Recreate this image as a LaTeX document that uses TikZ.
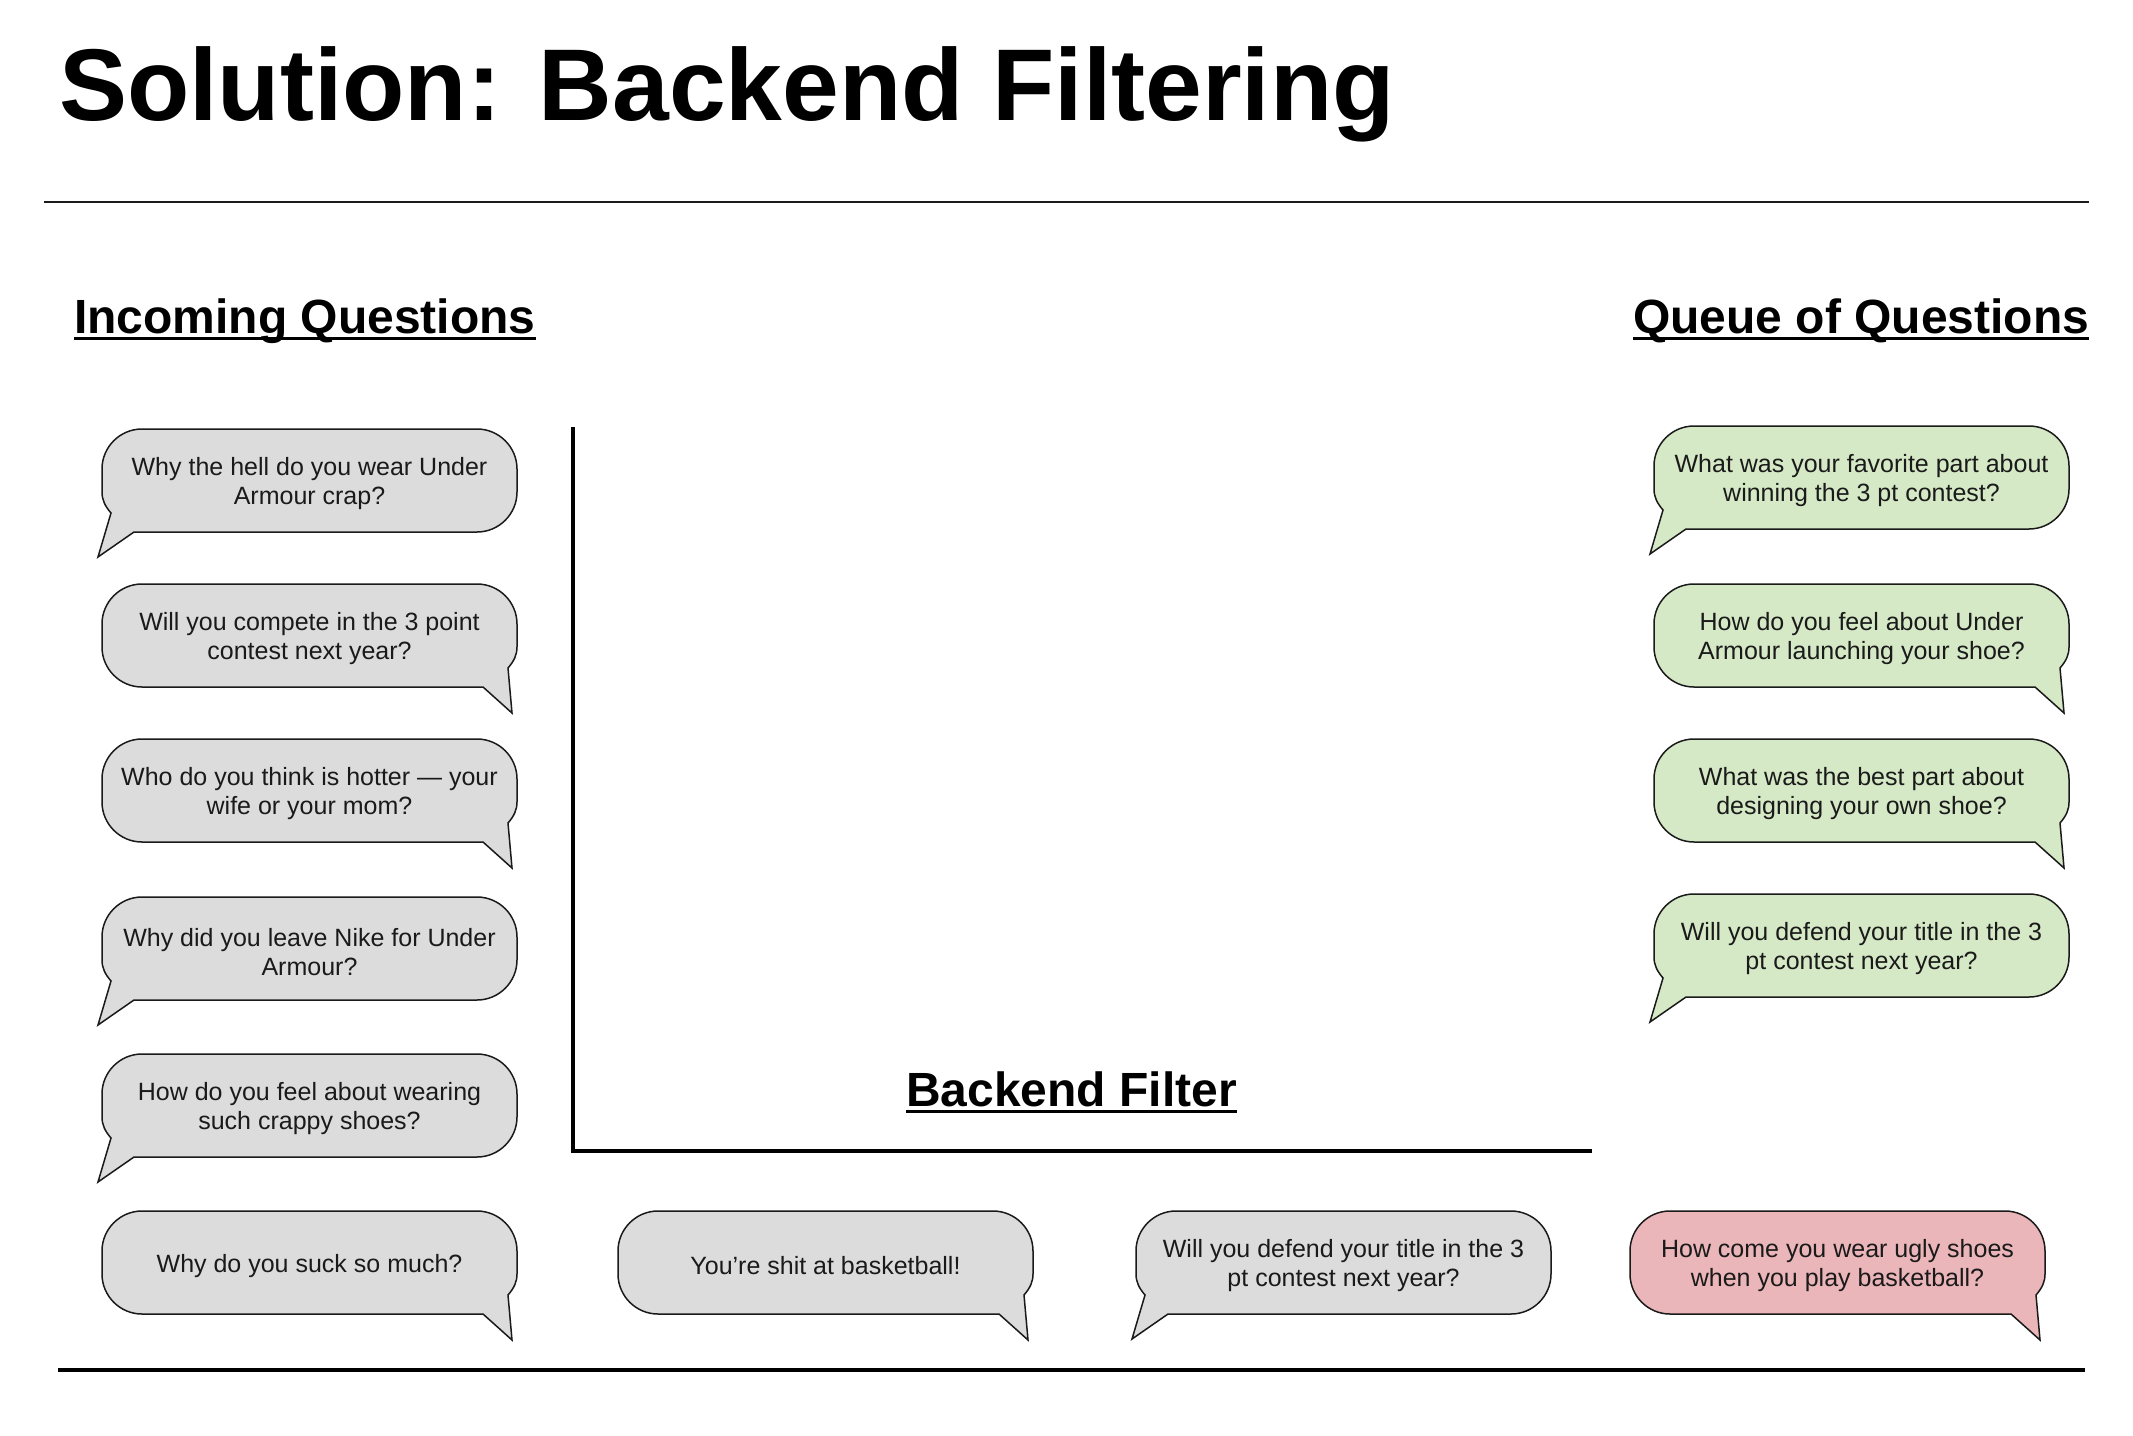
\documentclass[tikz,border=0pt]{standalone}
\usepackage{fontspec}
\setmainfont{Liberation Sans}
\usetikzlibrary{calc}
\definecolor{bubgray}{HTML}{DCDCDC}
\definecolor{bubgreen}{HTML}{D6E9C6}
\definecolor{bubred}{HTML}{EBB6B9}
\definecolor{inkdark}{HTML}{1A1A1A}
\tikzset{
  bubline/.style={draw=inkdark, line width=1.5pt},
  bubtext/.style={inner sep=0pt, align=center, font=\fontsize{25}{29}\selectfont, text=inkdark},
  headtext/.style={inner sep=0pt, anchor=base west, font=\fontsize{48}{56}\selectfont\bfseries},
  titletext/.style={inner sep=0pt, anchor=base west, font=\fontsize{102}{110}\selectfont\bfseries},
  ruleline/.style={draw=black, line width=4pt},
  underl/.style={draw=black, line width=3pt},
}
% bubble with tail at bottom-left: name, left x, top y, fill, text
\newcommand{\bubL}[5]{%
  \draw[bubline, fill=#4] ({#2+40},#3) -- ({#2+375},#3)
    .. controls ({#2+397},#3) and ({#2+415},{#3+18}) .. ({#2+415},{#3+40})
    -- ({#2+415},{#3+63})
    .. controls ({#2+415},{#3+85}) and ({#2+397},{#3+103}) .. ({#2+375},{#3+103})
    -- ({#2+32},{#3+103}) -- ({#2-4},{#3+128}) -- ({#2+9},{#3+84})
    .. controls ({#2+3},{#3+77}) and ({#2},{#3+71}) .. ({#2},{#3+63})
    -- ({#2},{#3+40})
    .. controls ({#2},{#3+18}) and ({#2+18},#3) .. ({#2+40},#3) -- cycle;
  \node[bubtext] (#1) at ({#2+207.5},{#3+55}) {#5};
}
% bubble with tail at bottom-right
\newcommand{\bubR}[5]{%
  \draw[bubline, fill=#4] ({#2+40},#3) -- ({#2+375},#3)
    .. controls ({#2+397},#3) and ({#2+415},{#3+18}) .. ({#2+415},{#3+40})
    -- ({#2+415},{#3+63})
    .. controls ({#2+415},{#3+71}) and ({#2+412},{#3+77}) .. ({#2+406},{#3+84})
    -- ({#2+410},{#3+129}) -- ({#2+381},{#3+103})
    -- ({#2+40},{#3+103})
    .. controls ({#2+18},{#3+103}) and ({#2},{#3+85}) .. ({#2},{#3+63})
    -- ({#2},{#3+40})
    .. controls ({#2},{#3+18}) and ({#2+18},#3) .. ({#2+40},#3) -- cycle;
  \node[bubtext] (#1) at ({#2+207.5},{#3+55}) {#5};
}
\begin{document}
\begin{tikzpicture}[x=1pt, y=-1pt]
\useasboundingbox[fill=white] (0,0) rectangle (2133,1435);

% title and rules
\node[titletext] (title) at (59,120) {Solution: Backend Filtering};
\draw[draw=inkdark, line width=2.5pt] (44,202) -- (2089,202);

% headings
\node[headtext] (inc) at (74,333) {Incoming Questions};
\draw[underl] ([yshift=-5pt]inc.base west) -- ([yshift=-5pt]inc.base east);
\node[headtext] (queue) at (1633,333) {Queue of Questions};
\draw[underl] ([yshift=-5pt]queue.base west) -- ([yshift=-5pt]queue.base east);
\node[headtext] (filter) at (906,1106) {Backend Filter};
\draw[underl] ([yshift=-5pt]filter.base west) -- ([yshift=-5pt]filter.base east);

% filter frame and bottom line
\draw[ruleline] (573,427) -- (573,1153);
\draw[ruleline] (571,1151) -- (1592,1151);
\draw[ruleline] (58,1370) -- (2085,1370);

% incoming questions
\bubL{q1}{102}{429}{bubgray}{Why the hell do you wear Under\\Armour crap?}
\bubR{q2}{102}{584}{bubgray}{Will you compete in the 3 point\\contest next year?}
\bubR{q3}{102}{739}{bubgray}{Who do you think is hotter — your\\wife or your mom?}
\bubL{q4}{102}{897}{bubgray}{Why did you leave Nike for Under\\Armour?}
\bubL{q5}{102}{1054}{bubgray}{How do you feel about wearing\\such crappy shoes?}
\bubR{q6}{102}{1211}{bubgray}{Why do you suck so much?}

% bottom row
\bubR{q7}{618}{1211}{bubgray}{You’re shit at basketball!}
\bubL{q8}{1136}{1211}{bubgray}{Will you defend your title in the 3\\pt contest next year?}
\bubR{q9}{1630}{1211}{bubred}{How come you wear ugly shoes\\when you play basketball?}

% queue
\bubL{g1}{1654}{426}{bubgreen}{What was your favorite part about\\winning the 3 pt contest?}
\bubR{g2}{1654}{584}{bubgreen}{How do you feel about Under\\Armour launching your shoe?}
\bubR{g3}{1654}{739}{bubgreen}{What was the best part about\\designing your own shoe?}
\bubL{g4}{1654}{894}{bubgreen}{Will you defend your title in the 3\\pt contest next year?}
\end{tikzpicture}
\end{document}
